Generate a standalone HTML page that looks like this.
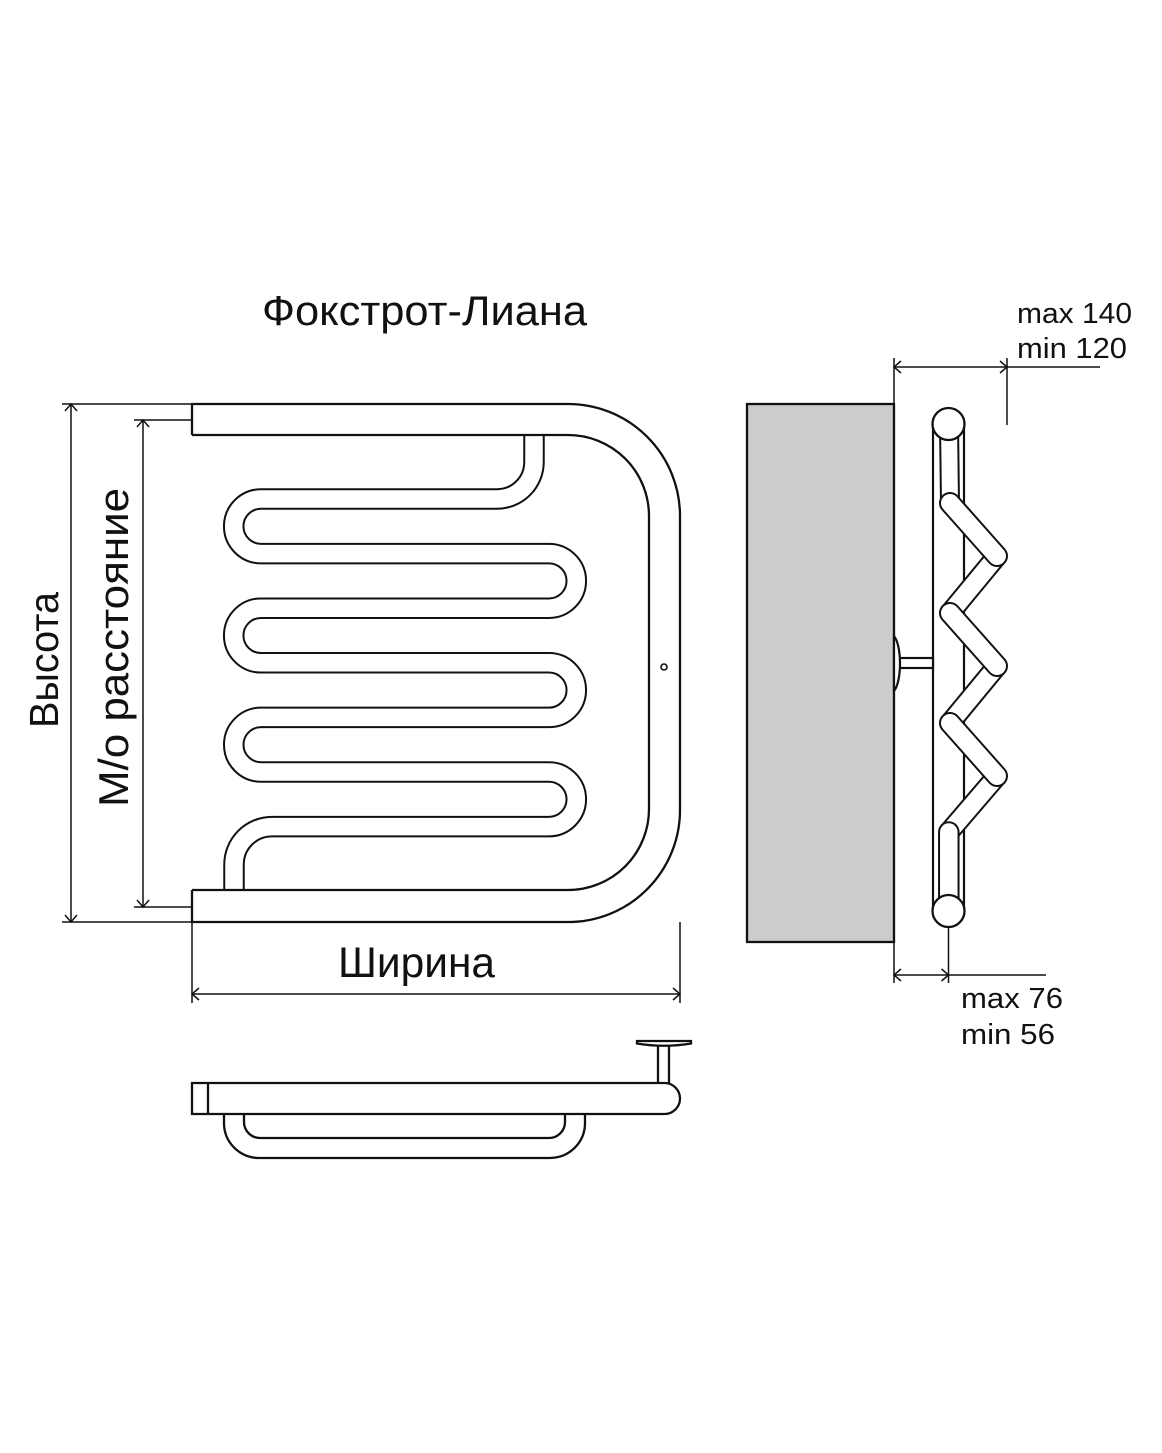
<!DOCTYPE html>
<html>
<head>
<meta charset="utf-8">
<style>
  html, body { margin: 0; padding: 0; background: #fff; }
  svg { display: block; }
  text { font-family: "Liberation Sans", "Noto Sans CJK SC", sans-serif; fill: #111; }
</style>
</head>
<body>
<svg width="1162" height="1453" viewBox="0 0 1162 1453" xmlns="http://www.w3.org/2000/svg">
  <rect x="0" y="0" width="1162" height="1453" fill="#fff"/>

  <!-- Title -->
  <text x="262" y="325" font-size="42" textLength="325" lengthAdjust="spacingAndGlyphs">Фокстрот-Лиана</text>

  <!-- ===== FRONT VIEW ===== -->
  <!-- serpentine tube -->
  <path d="M534,435 V462 A37,37 0 0 1 497,499 H261 A27.3,27.3 0 0 0 261,553.6 H549 A27.3,27.3 0 0 1 549,608.2 H261 A27.3,27.3 0 0 0 261,662.8 H549 A27.3,27.3 0 0 1 549,717.4 H261 A27.3,27.3 0 0 0 261,772 H549 A27.3,27.3 0 0 1 549,826.6 H272 A38,38 0 0 0 234,864.6 V890"
        fill="none" stroke="#111" stroke-width="21.5"/>
  <path d="M534,435 V462 A37,37 0 0 1 497,499 H261 A27.3,27.3 0 0 0 261,553.6 H549 A27.3,27.3 0 0 1 549,608.2 H261 A27.3,27.3 0 0 0 261,662.8 H549 A27.3,27.3 0 0 1 549,717.4 H261 A27.3,27.3 0 0 0 261,772 H549 A27.3,27.3 0 0 1 549,826.6 H272 A38,38 0 0 0 234,864.6 V890"
        fill="none" stroke="#fff" stroke-width="17.5"/>

  <!-- main frame -->
  <path d="M192,435 V404 H568 A112,112 0 0 1 680,516 V810 A112,112 0 0 1 568,922 H192 V890"
        fill="none" stroke="#111" stroke-width="2.3"/>
  <path d="M192,435 H568 A81,81 0 0 1 649,516 V809 A81,81 0 0 1 568,890 H192"
        fill="none" stroke="#111" stroke-width="2.3"/>
  <circle cx="664" cy="667" r="3" fill="#fff" stroke="#111" stroke-width="1.6"/>

  <!-- dimension: Высота -->
  <g stroke="#111" stroke-width="1.5" fill="none">
    <line x1="62" y1="404" x2="192" y2="404"/>
    <line x1="62" y1="922" x2="192" y2="922"/>
    <line x1="71" y1="404" x2="71" y2="922"/>
    <polyline points="65,411 71,404 77,411"/>
    <polyline points="65,915 71,922 77,915"/>
    <!-- M/o -->
    <line x1="134" y1="420" x2="192" y2="420"/>
    <line x1="134" y1="907" x2="192" y2="907"/>
    <line x1="143" y1="420" x2="143" y2="907"/>
    <polyline points="137,427 143,420 149,427"/>
    <polyline points="137,900 143,907 149,900"/>
    <!-- Ширина -->
    <line x1="192" y1="922" x2="192" y2="1003"/>
    <line x1="680" y1="922" x2="680" y2="1003"/>
    <line x1="192" y1="994" x2="680" y2="994"/>
    <polyline points="199,988 192,994 199,1000"/>
    <polyline points="673,988 680,994 673,1000"/>
  </g>
  <text transform="translate(58,728) rotate(-90)" x="0" y="0" font-size="41" textLength="136" lengthAdjust="spacingAndGlyphs">Высота</text>
  <text transform="translate(128,807) rotate(-90)" x="0" y="0" font-size="42" textLength="319" lengthAdjust="spacingAndGlyphs">М/о расстояние</text>
  <text x="338" y="977" font-size="43" textLength="157" lengthAdjust="spacingAndGlyphs">Ширина</text>

  <!-- ===== BOTTOM (TOP-DOWN) VIEW ===== -->
  <g stroke="#111" stroke-width="2.3" fill="none">
    <path d="M224,1114 V1123 A35,35 0 0 0 259,1158 H550 A35,35 0 0 0 585,1123 V1114"/>
    <path d="M244,1114 V1122 A16,16 0 0 0 260,1138 H549 A16,16 0 0 0 565,1122 V1114"/>
    <path d="M192,1083 H664.5 A15.5,15.5 0 0 1 664.5,1114 H192 Z" fill="#fff"/>
    <line x1="208" y1="1083" x2="208" y2="1114"/>
    <line x1="658" y1="1046" x2="658" y2="1083"/>
    <line x1="669" y1="1046" x2="669" y2="1083"/>
    <path d="M637,1041 H691 V1043.5 Q664,1048 637,1043.5 Z" fill="#fff"/>
  </g>

  <!-- ===== SIDE VIEW ===== -->
  <rect x="747" y="404" width="147" height="538" fill="#cccccc" stroke="#111" stroke-width="2.3"/>

  <!-- dims -->
  <g stroke="#111" stroke-width="1.5" fill="none">
    <line x1="894" y1="358" x2="894" y2="404"/>
    <line x1="1007" y1="358" x2="1007" y2="425"/>
    <line x1="894" y1="367" x2="1100" y2="367"/>
    <polyline points="901,361 894,367 901,373"/>
    <polyline points="1000,361 1007,367 1000,373"/>

    <line x1="894" y1="942" x2="894" y2="983"/>
    <line x1="948.5" y1="927" x2="948.5" y2="983"/>
    <line x1="894" y1="975" x2="1046" y2="975"/>
    <polyline points="901,969 894,975 901,981"/>
    <polyline points="941.5,969 948.5,975 941.5,981"/>
  </g>
  <text x="1017" y="323" font-size="29" textLength="115" lengthAdjust="spacingAndGlyphs">max 140</text>
  <text x="1017" y="358" font-size="29" textLength="110" lengthAdjust="spacingAndGlyphs">min 120</text>
  <text x="961" y="1008" font-size="29" textLength="102" lengthAdjust="spacingAndGlyphs">max 76</text>
  <text x="961" y="1044" font-size="29" textLength="94" lengthAdjust="spacingAndGlyphs">min 56</text>

  <!-- long rails -->
  <g stroke="#111" stroke-width="2.2">
    <line x1="933" y1="424" x2="933" y2="911"/>
    <line x1="964" y1="424" x2="964" y2="911"/>
  </g>

  <!-- wall mount -->
  <g stroke="#111" stroke-width="2.2" fill="#fff">
    <rect x="899" y="658" width="34" height="10"/>
    <path d="M894,636 C902,646 902,681 894,691 Z"/>
  </g>

  <!-- top vertical tube -->
  <line x1="949" y1="424" x2="950" y2="503" stroke="#111" stroke-width="20"/>
  <line x1="949" y1="424" x2="950" y2="503" stroke="#fff" stroke-width="16"/>

  <!-- connectors (behind) -->
  <g fill="none">
    <g stroke="#111" stroke-width="21.5">
      <line x1="997" y1="556" x2="950" y2="613"/>
      <line x1="997" y1="666" x2="950" y2="723"/>
      <line x1="997" y1="776" x2="949" y2="832"/>
    </g>
    <g stroke="#fff" stroke-width="17.5">
      <line x1="997" y1="556" x2="950" y2="613"/>
      <line x1="997" y1="666" x2="950" y2="723"/>
      <line x1="997" y1="776" x2="949" y2="832"/>
    </g>
  </g>

  <!-- capsules (front) -->
  <g stroke-linecap="round">
    <line x1="950" y1="503" x2="997" y2="556" stroke="#111" stroke-width="22"/>
    <line x1="950" y1="503" x2="997" y2="556" stroke="#fff" stroke-width="18"/>
    <line x1="950" y1="613" x2="997" y2="666" stroke="#111" stroke-width="22"/>
    <line x1="950" y1="613" x2="997" y2="666" stroke="#fff" stroke-width="18"/>
    <line x1="950" y1="723" x2="997" y2="776" stroke="#111" stroke-width="22"/>
    <line x1="950" y1="723" x2="997" y2="776" stroke="#fff" stroke-width="18"/>
    <line x1="948.8" y1="832" x2="948.8" y2="905" stroke="#111" stroke-width="21.5"/>
    <line x1="948.8" y1="832" x2="948.8" y2="905" stroke="#fff" stroke-width="17.5"/>
  </g>

  <!-- end circles -->
  <circle cx="948.5" cy="424" r="16" fill="#fff" stroke="#111" stroke-width="2.3"/>
  <circle cx="948.5" cy="911" r="16" fill="#fff" stroke="#111" stroke-width="2.3"/>
</svg>
</body>
</html>
